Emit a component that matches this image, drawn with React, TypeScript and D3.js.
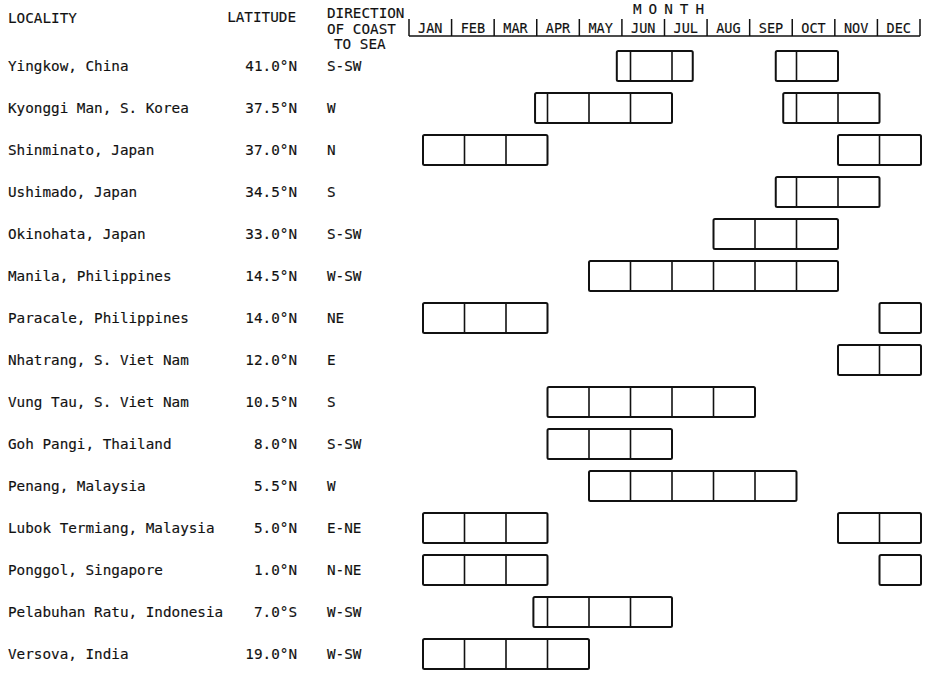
import React from "react";
import * as d3 from "d3";

const months = ["JAN", "FEB", "MAR", "APR", "MAY", "JUN", "JUL", "AUG", "SEP", "OCT", "NOV", "DEC"];

const localities = [
  "Yingkow, China",
  "Kyonggi Man, S. Korea",
  "Shinminato, Japan",
  "Ushimado, Japan",
  "Okinohata, Japan",
  "Manila, Philippines",
  "Paracale, Philippines",
  "Nhatrang, S. Viet Nam",
  "Vung Tau, S. Viet Nam",
  "Goh Pangi, Thailand",
  "Penang, Malaysia",
  "Lubok Termiang, Malaysia",
  "Ponggol, Singapore",
  "Pelabuhan Ratu, Indonesia",
  "Versova, India",
];

const latitudes = [
  "41.0°N", "37.5°N", "37.0°N", "34.5°N", "33.0°N", "14.5°N", "14.0°N", "12.0°N",
  "10.5°N", "8.0°N", "5.5°N", "5.0°N", "1.0°N", "7.0°S", "19.0°N",
];

const directions = [
  "S-SW", "W", "N", "S", "S-SW", "W-SW", "NE", "E", "S", "S-SW", "W", "E-NE", "N-NE", "W-SW", "W-SW",
];

// spawning seasons: [start, end] in months from the start of January (0..12)
const seasons: [number, number][][] = [
  [[4.67, 6.5], [8.5, 10]],
  [[2.7, 6], [8.68, 11]],
  [[0, 3], [10, 12]],
  [[8.5, 11]],
  [[7, 10]],
  [[4, 10]],
  [[0, 3], [11, 12]],
  [[10, 12]],
  [[3, 8]],
  [[3, 6]],
  [[4, 9]],
  [[0, 3], [10, 12]],
  [[0, 3], [11, 12]],
  [[2.66, 6]],
  [[0, 4]],
];

const W = 925;
const H = 681;
const FONT = "'DejaVu Sans Mono', monospace";

export default function App() {
  const x = d3.scaleLinear().domain([0, 12]).range([423, 921]);
  const hx = d3.scaleBand<string>().domain(months).range([409, 920]);
  const y = d3.scaleBand<string>().domain(localities).range([45, 675]);
  const barH = 30;

  const textStyle = {
    fontFamily: FONT,
    fontSize: 14.3,
    fill: "#111",
    stroke: "#111",
    strokeWidth: 0.15,
  } as const;

  return (
    <svg
      width={W}
      height={H}
      style={{ position: "absolute", left: 0, top: 0, background: "#fff" }}
    >
      {/* headers */}
      <text x={8} y={18} dy="0.35em" {...textStyle}>LOCALITY</text>
      <text x={296} y={17} dy="0.35em" textAnchor="end" {...textStyle}>LATITUDE</text>
      <text x={327} y={13} dy="0.35em" {...textStyle}>DIRECTION</text>
      <text x={327} y={29} dy="0.35em" {...textStyle}>OF COAST</text>
      <text x={334} y={44} dy="0.35em" {...textStyle}>TO SEA</text>
      <text x={672} y={9} dy="0.35em" textAnchor="middle" {...textStyle} letterSpacing={7}>MONTH</text>

      {/* month header */}
      <g>
        {months.map((m) => (
          <text
            key={m}
            x={(hx(m) as number) + hx.bandwidth() / 2}
            y={28}
            dy="0.35em"
            textAnchor="middle"
            {...textStyle}
            fontSize={13.5}
          >
            {m}
          </text>
        ))}
        {[...months.map((m) => hx(m) as number), hx.range()[1]].map((v, i) => (
          <line key={i} x1={v} x2={v} y1={19} y2={36} stroke="#111" strokeWidth={1.5} />
        ))}
        <line x1={hx.range()[0]} x2={hx.range()[1]} y1={36} y2={36} stroke="#111" strokeWidth={1.5} />
      </g>

      {/* rows */}
      {localities.map((loc, i) => {
        const cy = (y(loc) as number) + y.bandwidth() / 2;
        return (
          <g key={loc}>
            <text x={8} y={cy} dy="0.35em" {...textStyle}>{loc}</text>
            <text x={297} y={cy} dy="0.35em" textAnchor="end" {...textStyle}>{latitudes[i]}</text>
            <text x={327} y={cy} dy="0.35em" {...textStyle}>{directions[i]}</text>
            {seasons[i].map(([s, e], j) => {
              const inner = d3.range(Math.floor(s) + 1, Math.ceil(e)).filter((k) => k > s && k < e);
              return (
                <g key={j}>
                  <rect
                    x={x(s)}
                    y={cy - barH / 2}
                    width={x(e) - x(s)}
                    height={barH}
                    fill="none"
                    stroke="#111"
                    strokeWidth={2}
                    rx={1.5}
                  />
                  {inner.map((k) => (
                    <line
                      key={k}
                      x1={x(k)}
                      x2={x(k)}
                      y1={cy - barH / 2}
                      y2={cy + barH / 2}
                      stroke="#111"
                      strokeWidth={1.6}
                    />
                  ))}
                </g>
              );
            })}
          </g>
        );
      })}
    </svg>
  );
}
